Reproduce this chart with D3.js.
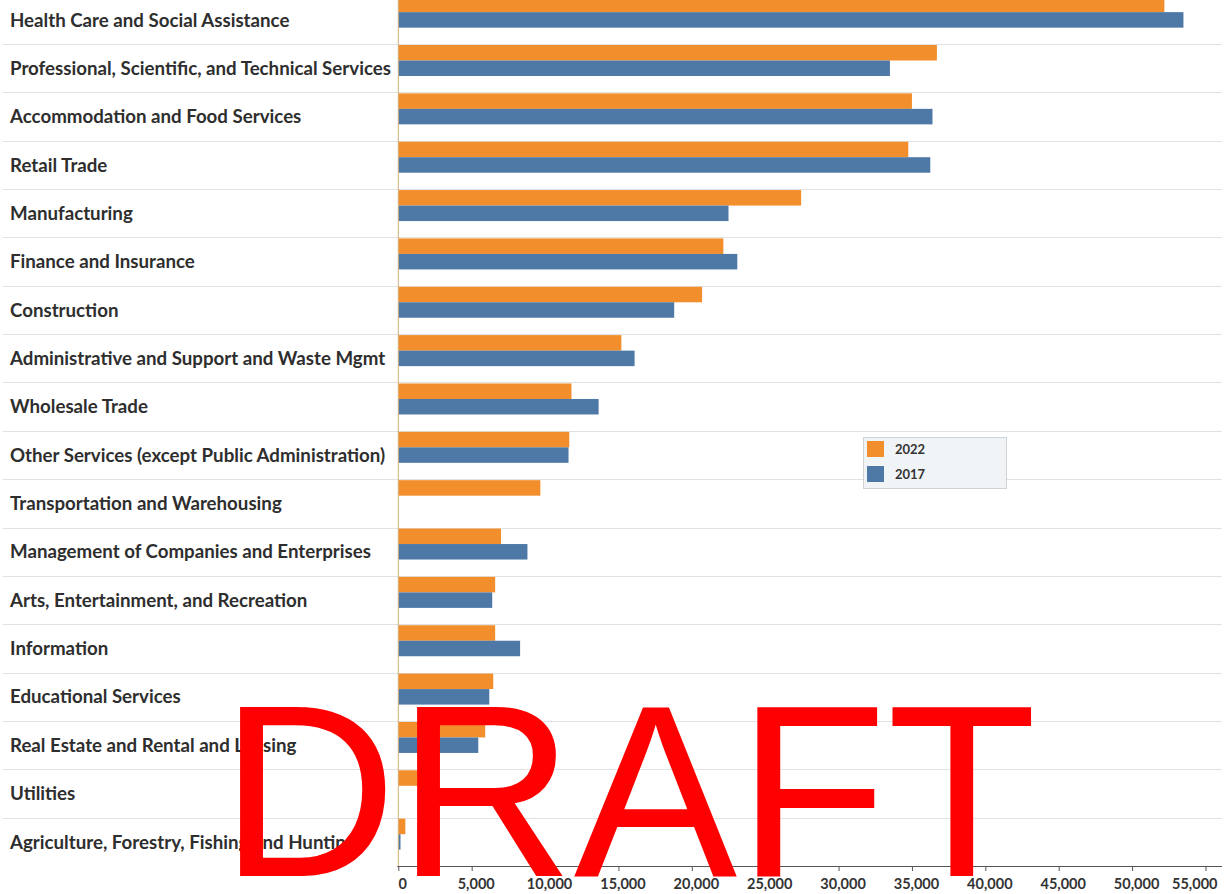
<!DOCTYPE html>
<html>
<head>
<meta charset="utf-8">
<script src="https://cdn.jsdelivr.net/npm/d3@7"></script>
<style>
  html, body { margin: 0; padding: 0; background: #fff; }
  svg { display: block; }
</style>
</head>
<body>
<svg id="chart" width="1225" height="894"></svg>
<script>
// Establishments by industry sector, 2022 vs 2017
const industries = [
  "Health Care and Social Assistance",
  "Professional, Scientific, and Technical Services",
  "Accommodation and Food Services",
  "Retail Trade",
  "Manufacturing",
  "Finance and Insurance",
  "Construction",
  "Administrative and Support and Waste Mgmt",
  "Wholesale Trade",
  "Other Services (except Public Administration)",
  "Transportation and Warehousing",
  "Management of Companies and Enterprises",
  "Arts, Entertainment, and Recreation",
  "Information",
  "Educational Services",
  "Real Estate and Rental and Leasing",
  "Utilities",
  "Agriculture, Forestry, Fishing and Hunting"
];
const values2022 = [52200, 36700, 35000, 34750, 27450, 22150, 20700, 15200, 11800, 11650, 9680, 7000, 6600, 6600, 6470, 5920, 1300, 480];
const values2017 = [53500, 33500, 36400, 36250, 22500, 23100, 18800, 16100, 13650, 11600, null, 8800, 6400, 8300, 6200, 5450, null, 150];
const years = ["2022", "2017"];
const xTicks = [0, 5000, 10000, 15000, 20000, 25000, 30000, 35000, 40000, 45000, 50000, 55000];

const colors = { "2022": "#f28e2b", "2017": "#4e79a7" };
const labelFont = "Lato, 'Open Sans', sans-serif";

const svg = d3.select("#chart");

const x = d3.scaleLinear().domain([0, 56100]).range([398.3, 1221.6]);
const y = d3.scaleBand().domain(industries).range([-4.35, 866]).padding(0);
const ySub = d3.scaleBand().domain(years).range([1, 32]).padding(0);

const rows = industries.map((name, i) => ({
  name,
  "2022": values2022[i],
  "2017": values2017[i]
}));

// row separators
svg.append("g")
  .selectAll("line")
  .data(industries.slice(1))
  .join("line")
  .attr("x1", 3).attr("x2", 1222)
  .attr("y1", d => Math.round(y(d)) + 0.5)
  .attr("y2", d => Math.round(y(d)) + 0.5)
  .attr("stroke", "#e2e2e2")
  .attr("stroke-width", 1);

// bars
const groups = svg.append("g")
  .selectAll("g")
  .data(rows)
  .join("g")
  .attr("transform", d => `translate(0,${y(d.name)})`);

groups.selectAll("rect")
  .data(d => years.filter(k => d[k] != null).map(k => ({ key: k, value: d[k] })))
  .join("rect")
  .attr("x", x(0))
  .attr("y", d => ySub(d.key))
  .attr("width", d => x(d.value) - x(0))
  .attr("height", ySub.bandwidth())
  .attr("fill", d => colors[d.key]);

// zero line
svg.append("line")
  .attr("x1", x(0)).attr("x2", x(0))
  .attr("y1", 0).attr("y2", 866)
  .attr("stroke", "#d3ae7a")
  .attr("stroke-width", 1);

// category labels, sized so the longest fits the label column
const labels = svg.append("g")
  .selectAll("text")
  .data(industries)
  .join("text")
  .attr("x", 10)
  .attr("y", d => y(d) + y.bandwidth() / 2)
  .attr("dy", "0.36em")
  .attr("font-family", labelFont)
  .attr("font-weight", 700)
  .attr("font-size", 16)
  .attr("fill", "#2e2e2e")
  .text(d => d);

const longest = labels.filter(d => d === industries[1]).node();
const fitSize = 16 * 381 / longest.getComputedTextLength();
labels.attr("font-size", fitSize);

// x axis
const axis = d3.axisBottom(x)
  .tickValues(xTicks)
  .tickFormat(d3.format(","))
  .tickSize(5)
  .tickSizeOuter(0);

const axisG = svg.append("g")
  .attr("transform", "translate(0,866)")
  .call(axis);

axisG.select(".domain").attr("stroke", "#555").attr("d", `M${x(0) - 1},0.5H1222`);
axisG.selectAll(".tick line").attr("stroke", "#555");
const lastTick = xTicks[xTicks.length - 1];
axisG.selectAll(".tick text")
  .attr("x", d => d === lastTick ? 1217 - x(d) : 4)
  .attr("text-anchor", d => d === lastTick ? "end" : "middle")
  .attr("y", 13)
  .attr("font-family", labelFont)
  .attr("font-weight", 700)
  .attr("font-size", 14.5)
  .attr("fill", "#333");

// legend
const legend = svg.append("g").attr("transform", "translate(863,437)");
legend.append("rect")
  .attr("x", 0.5).attr("y", 0.5)
  .attr("width", 143).attr("height", 51)
  .attr("fill", "#f1f4f6")
  .attr("stroke", "#a9adb0")
  .attr("stroke-dasharray", "1,1");
const items = legend.selectAll("g.item")
  .data(years)
  .join("g")
  .attr("class", "item")
  .attr("transform", (d, i) => `translate(4,${4 + i * 25})`);
items.append("rect")
  .attr("width", 17).attr("height", 16)
  .attr("fill", d => colors[d]);
items.append("text")
  .attr("x", 28).attr("y", 8)
  .attr("dy", "0.36em")
  .attr("font-family", labelFont)
  .attr("font-weight", 700)
  .attr("font-size", 13)
  .attr("fill", "#333")
  .text(d => d);

// watermark
svg.append("text")
  .attr("x", 220)
  .attr("y", 876)
  .attr("font-family", "'Liberation Sans', Arial, sans-serif")
  .attr("font-size", 245)
  .attr("fill", "#ff0000")
  .text("DRAFT");
</script>
</body>
</html>
